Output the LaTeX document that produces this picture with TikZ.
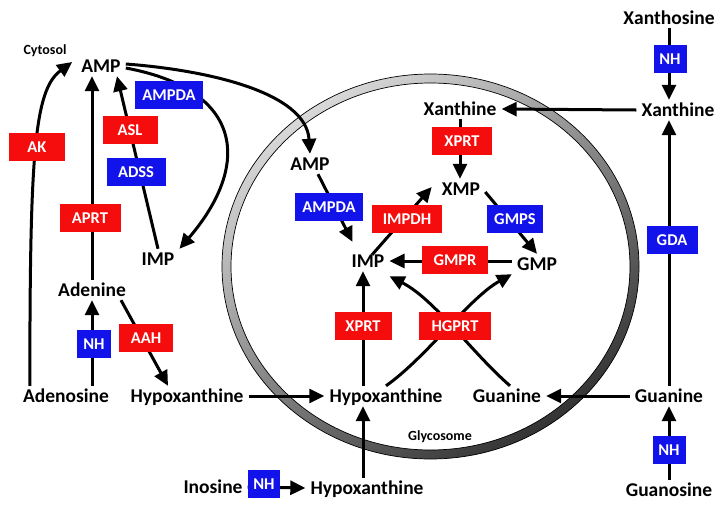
\documentclass[tikz,border=0pt]{standalone}
\usepackage{fontspec}
\setmainfont{Carlito}
\usetikzlibrary{arrows.meta,calc}

\definecolor{enzred}{RGB}{245,12,12}
\definecolor{enzblue}{RGB}{18,18,235}

\tikzset{
    metabolite/.style={font=\bfseries\fontsize{19.5}{22}\selectfont, inner xsep=5pt, inner ysep=3pt, text height=13pt, text depth=1pt},
    compartment/.style={font=\bfseries\fontsize{14}{16}\selectfont, inner sep=1pt},
    enzyme/.style={font=\bfseries\fontsize{16.5}{18}\selectfont, text=white, inner xsep=4pt, minimum height=28pt, text height=11pt, text depth=0pt},
    red enzyme/.style={enzyme, fill=enzred},
    blue enzyme/.style={enzyme, fill=enzblue},
    flux/.style={-{Triangle[width=14pt,length=15pt]}, line width=3pt, black},
    membrane/.style={draw=black, line width=0.7pt},
}

\begin{document}
\begin{tikzpicture}[x=1pt, y=-1pt]
    \useasboundingbox (0,0) rectangle (728,512);

    % Glycosome membrane
    \shade[even odd rule, top color=black!15, bottom color=black!80, shading angle=35]
        (430.5,266.5) ellipse [x radius=208.5pt, y radius=192.5pt]
        (430.5,266.5) ellipse [x radius=199.5pt, y radius=183.5pt];
    \draw[membrane] (430.5,266.5) ellipse [x radius=208.5pt, y radius=192.5pt];
    \draw[membrane] (430.5,266.5) ellipse [x radius=199.5pt, y radius=183.5pt];
    \node[compartment] (cytosol) at (45,51) {Cytosol};
    \node[compartment] (glycosome) at (440,437) {Glycosome};

    % Cytosol metabolites
    \node[metabolite] (ampc) at (101,66) {AMP};
    \node[metabolite] (impc) at (158,259) {IMP};
    \node[metabolite] (adenine) at (92,290) {Adenine};
    \node[metabolite] (adenosine) at (66,396) {Adenosine};
    \node[metabolite] (hypc) at (187,396) {Hypoxanthine};
    \node[metabolite] (inosine) at (213,487) {Inosine};
    \node[metabolite] (hypb) at (367,488) {Hypoxanthine};
    \node[metabolite] (xanthosine) at (669,18) {Xanthosine};
    \node[metabolite] (xanr) at (678,110) {Xanthine};
    \node[metabolite] (guar) at (669,396) {Guanine};
    \node[metabolite] (guanosine) at (669,490) {Guanosine};

    % Glycosome metabolites
    \node[metabolite] (ampg) at (310,164) {AMP};
    \node[metabolite] (impg) at (368,261) {IMP};
    \node[metabolite] (xmp) at (461,189) {XMP};
    \node[metabolite] (gmp) at (537,264) {GMP};
    \node[metabolite] (xang) at (460,109) {Xanthine};
    \node[metabolite] (hypg) at (386,396) {Hypoxanthine};
    \node[metabolite] (guag) at (507,396) {Guanine};

    % Cytosol reactions
    \draw[flux] ([xshift=12pt]adenosine.north west) .. controls +(0,-232) and +(-38,28) .. ([shift={(-4,-4)}]ampc.west);
    \draw[flux] (adenine |- adenosine.north) -- (adenine.south);
    \draw[flux] (adenine.north) -- (adenine |- ampc.south);
    \draw[flux] (impc.north) -- ([xshift=16pt]ampc.south);
    \draw[flux] ([yshift=-2pt]ampc.east) .. controls +(118,22) and +(72,-84) .. (impc.north east);
    \draw[flux] ([xshift=-10pt]adenine.south east) -- ([xshift=-19pt]hypc.north);

    % Transport into the glycosome
    \draw[flux] ([yshift=2pt]ampc.east) .. controls +(80,6) and +(-4,-62) .. (ampg.north);
    \draw[flux] (hypc.east) -- (hypg.west);
    \draw[flux] (inosine.east) -- (hypb.west);
    \draw[flux] ([xshift=-4pt]hypb.north) -- ([xshift=-4pt]hypb.north |- hypg.south);
    \draw[flux] (guar.west) -- (guag.east);
    \draw[flux] (xanr.west) -- (xang.east);
    \draw[flux] (xanthosine.south) -- (xanthosine.south |- xanr.north);
    \draw[flux] (guar.north) -- (guar.north |- xanr.south);
    \draw[flux] (guanosine.north) -- (guar.south);

    % Glycosome reactions
    \draw[flux] ([xshift=8pt]ampg.south) -- ([shift={(6,-9)}]impg.north west);
    \draw[flux] ([shift={(4,4)}]impg.north) -- ([shift={(-5,-2)}]xmp.west);
    \draw[flux] (xang.south) -- (xang.south |- xmp.north);
    \draw[flux] ([yshift=-3pt]xmp.east) -- (gmp.north);
    \draw[flux] (gmp.west |- impg.east) -- (impg.east);
    \draw[flux] ([xshift=-5pt]impg.south |- hypg.north) -- ([xshift=-5pt]impg.south);
    \draw[flux] (hypg.north) .. controls +(41,-29) and +(-43,24) .. (gmp.south west);
    \draw[flux] ([xshift=3pt]guag.north) .. controls +(-39,-34) and +(45,23) .. ([yshift=-5pt]impg.south east);

    % Enzymes
    \foreach \n/\x/\y/\w/\t in {ak/37/147/56/AK, asl/130/130/55/ASL, aprt/90/218/61/APRT,
        aah/146/338/54/AAH, impdh/407/219/70/IMPDH, xprtx/462/141/60/XPRT,
        gmpr/455/260/66/GMPR, xprth/363/326/57/XPRT, hgprt/455/326/72/HGPRT}
        \node[red enzyme, minimum width=\w pt] (\n) at (\x,\y) {\t};
    \foreach \n/\x/\y/\w/\t in {adss/136/172/59/ADSS, ampdac/169/95/68/AMPDA, nhade/94/344/34/NH,
        ampdag/329/207/68/AMPDA, gmps/515/219/56/GMPS, nhino/264/484/32/NH,
        nhxao/670/59/33/NH, gda/672/240/51/GDA, nhguo/669/450/33/NH}
        \node[blue enzyme, minimum width=\w pt] (\n) at (\x,\y) {\t};

\end{tikzpicture}
\end{document}
